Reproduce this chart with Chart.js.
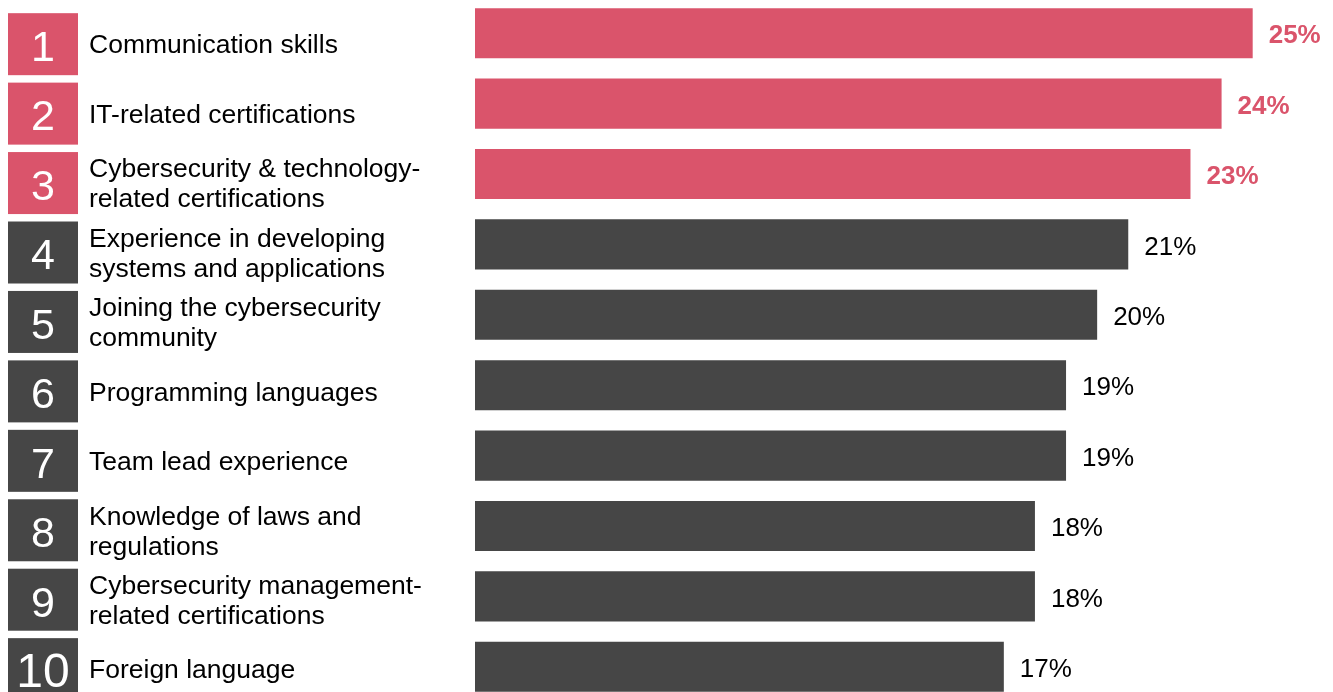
<!DOCTYPE html>
<html>
<head>
<meta charset="utf-8">
<script src="https://cdn.jsdelivr.net/npm/chart.js@4.4.1/dist/chart.umd.min.js"></script>
<style>
  html, body { margin: 0; padding: 0; background: #ffffff; overflow: hidden; }
  body { width: 1333px; height: 692px; position: relative; }
  #wrap { position: absolute; left: 0; top: -2px; width: 1333px; height: 704px; }
</style>
</head>
<body>
<div id="wrap"><canvas id="chart"></canvas></div>
<script>
// Top skills, ranked
const ranks = [1, 2, 3, 4, 5, 6, 7, 8, 9, 10];
const skills = [
  ['Communication skills'],
  ['IT-related certifications'],
  ['Cybersecurity & technology-', 'related certifications'],
  ['Experience in developing', 'systems and applications'],
  ['Joining the cybersecurity', 'community'],
  ['Programming languages'],
  ['Team lead experience'],
  ['Knowledge of laws and', 'regulations'],
  ['Cybersecurity management-', 'related certifications'],
  ['Foreign language']
];
const shares = [25, 24, 23, 21, 20, 19, 19, 18, 18, 17];

const TOP_N = 3;
const PINK = '#DA546B';
const DARK = '#464646';
const FONT = '"Liberation Sans", Arial, Helvetica, sans-serif';

const barColors = ranks.map((r, i) => i < TOP_N ? PINK : DARK);

// Rank boxes and skill names, placed on the hidden "rank" axis
const rankColumn = {
  id: 'rankColumn',
  afterDatasetsDraw(chart) {
    const ctx = chart.ctx;
    const rs = chart.scales.rank;
    ctx.save();
    ranks.forEach((r, i) => {
      const cy = rs.getPixelForValue(r);
      ctx.fillStyle = barColors[i];
      ctx.fillRect(8, cy - 31, 70, 62);
      ctx.fillStyle = '#ffffff';
      ctx.textAlign = 'center';
      ctx.textBaseline = 'middle';
      ctx.font = (r >= 10 ? '48px ' : '43px ') + FONT;
      ctx.fillText(String(r), 43, cy + 5);

      ctx.fillStyle = '#000000';
      ctx.textAlign = 'left';
      ctx.font = '26.5px ' + FONT;
      const lines = skills[i];
      const lh = 30;
      lines.forEach((t, k) => {
        const y = cy + 2 + (k - (lines.length - 1) / 2) * lh;
        ctx.fillText(t, 89, y);
      });
    });
    ctx.restore();
  }
};

// Percentage labels at the end of each bar
const valueLabels = {
  id: 'valueLabels',
  afterDatasetsDraw(chart) {
    const ctx = chart.ctx;
    const meta = chart.getDatasetMeta(0);
    ctx.save();
    ctx.textAlign = 'left';
    ctx.textBaseline = 'middle';
    meta.data.forEach((bar, i) => {
      const top = i < TOP_N;
      ctx.font = (top ? 'bold ' : '') + '26px ' + FONT;
      ctx.fillStyle = top ? PINK : '#000000';
      ctx.fillText(shares[i] + '%', bar.x + 16, bar.y + 3);
    });
    ctx.restore();
  }
};

new Chart(document.getElementById('chart'), {
  type: 'bar',
  data: {
    labels: skills.map(s => s.join(' ')),
    datasets: [{
      data: shares,
      backgroundColor: barColors,
      borderWidth: 0,
      barPercentage: 0.711,
      categoryPercentage: 1.0
    }]
  },
  options: {
    indexAxis: 'y',
    responsive: true,
    maintainAspectRatio: false,
    animation: false,
    layout: { padding: { left: 475, right: 49.2, top: 0, bottom: 0 } },
    plugins: {
      legend: { display: false },
      tooltip: { enabled: false }
    },
    scales: {
      x: { display: false, min: 0, max: 26 },
      y: { display: false },
      rank: {
        type: 'linear', axis: 'y', display: false, reverse: true,
        offset: false, beginAtZero: false, min: 0.335, max: 10.473
      }
    }
  },
  plugins: [rankColumn, valueLabels]
});
</script>
</body>
</html>
